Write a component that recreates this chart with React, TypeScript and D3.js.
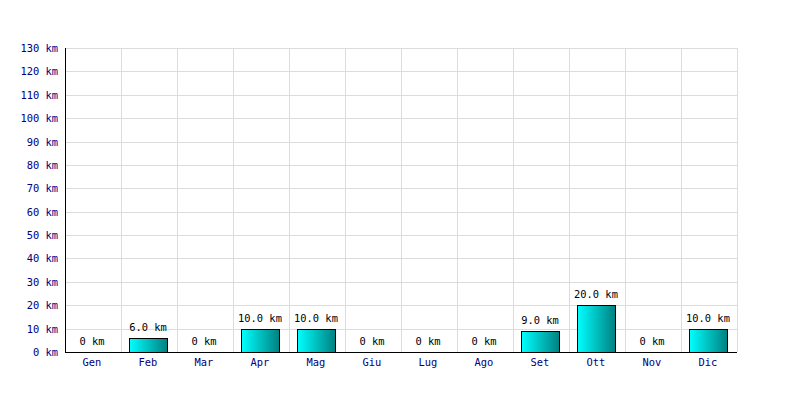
import React from "react";
import * as d3 from "d3";

const months = ["Gen", "Feb", "Mar", "Apr", "Mag", "Giu", "Lug", "Ago", "Set", "Ott", "Nov", "Dic"];
const distances = [0, 6, 0, 10, 10, 0, 0, 0, 9, 20, 0, 10];
const yTicks = [0, 10, 20, 30, 40, 50, 60, 70, 80, 90, 100, 110, 120, 130];

const width = 800;
const height = 400;
const margin = { top: 48, right: 63, bottom: 48, left: 65 };
const font = "'DejaVu Sans Mono', monospace";
const fs = 10.4;

export default function App() {
  const x = d3
    .scaleBand<string>()
    .domain(months)
    .range([margin.left, width - margin.right])
    .paddingInner(0.32)
    .paddingOuter(0.16);
  const band = (width - margin.left - margin.right) / months.length;
  const y = d3.scaleLinear().domain([0, 130]).range([height - margin.bottom, margin.top]);

  const label = (v: number) => (v === 0 ? "0 km" : `${v.toFixed(1)} km`);

  return (
    <div style={{ position: "absolute", left: 0, top: 0 }}>
      <svg width={width} height={height} style={{ display: "block", background: "#fff" }}>
        <defs>
          <linearGradient id="barGrad" x1="0" y1="0" x2="1" y2="0">
            <stop offset="0%" stopColor="#00ffff" />
            <stop offset="100%" stopColor="#008080" />
          </linearGradient>
        </defs>

        {/* grid */}
        {yTicks.map((t) => (
          <line key={"h" + t} x1={margin.left} x2={width - margin.right} y1={Math.round(y(t)) + 0.5} y2={Math.round(y(t)) + 0.5} stroke="#dcdcdc" />
        ))}
        {months.map((m, i) => (
          <line
            key={"v" + m}
            x1={margin.left + band * (i + 1) + 0.5}
            x2={margin.left + band * (i + 1) + 0.5}
            y1={margin.top}
            y2={height - margin.bottom}
            stroke="#dcdcdc"
          />
        ))}

        {/* bars */}
        {months.map((m, i) =>
          distances[i] > 0 ? (
            <rect
              key={"b" + m}
              x={Math.round(x(m)!) - 0.5}
              y={Math.round(y(distances[i])) + 0.5}
              width={Math.round(x.bandwidth())}
              height={Math.round(y(0)) - Math.round(y(distances[i]))}
              fill="url(#barGrad)"
              stroke="#000"
            />
          ) : null
        )}

        {/* value labels */}
        {months.map((m, i) => (
          <text
            key={"l" + m}
            x={x(m)! + x.bandwidth() / 2 - 1}
            y={y(distances[i]) - 7}
            textAnchor="middle"
            fontFamily={font}
            fontSize={fs}
            fill="#000"
          >
            {label(distances[i])}
          </text>
        ))}

        {/* axes */}
        <line x1={margin.left + 0.5} x2={margin.left + 0.5} y1={margin.top} y2={height - margin.bottom} stroke="#000" />
        <line x1={margin.left} x2={width - margin.right} y1={y(0) + 0.5} y2={y(0) + 0.5} stroke="#000" />

        {yTicks.map((t) => (
          <text
            key={"yt" + t}
            x={margin.left - 7}
            y={y(t) + 4}
            textAnchor="end"
            fontFamily={font}
            fontSize={fs}
            fill="#000080"
          >
            {`${t} km`}
          </text>
        ))}
        {months.map((m) => (
          <text
            key={"xt" + m}
            x={x(m)! + x.bandwidth() / 2 - 1}
            y={y(0) + 14}
            textAnchor="middle"
            fontFamily={font}
            fontSize={fs}
            fill="#000080"
          >
            {m}
          </text>
        ))}
      </svg>
    </div>
  );
}
